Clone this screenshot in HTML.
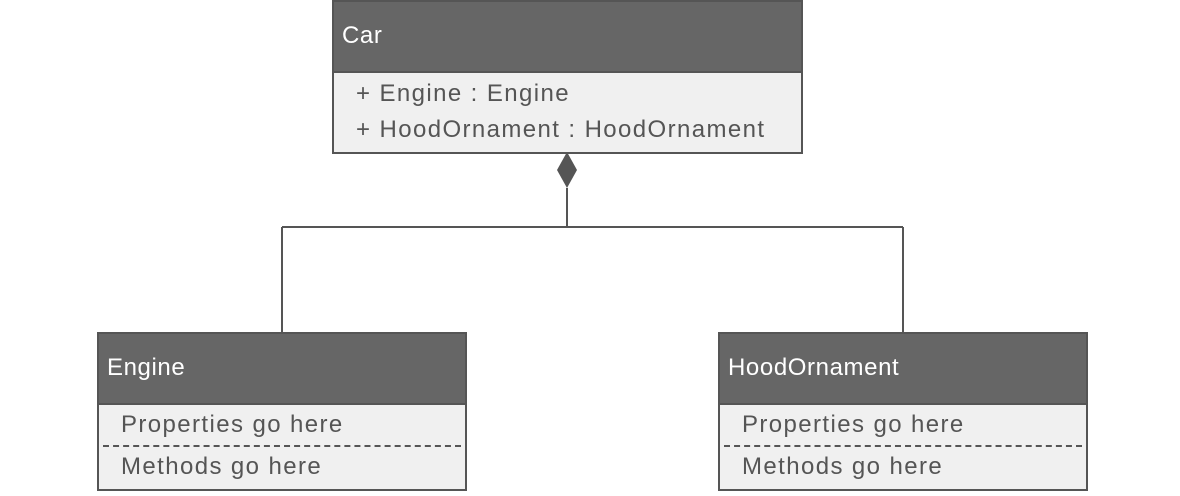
<!DOCTYPE html>
<html><head><style>
body{margin:0;width:1180px;height:496px;background:#fff;overflow:hidden;position:relative;font-family:"Liberation Sans",sans-serif;}
.box{position:absolute;border:2px solid #555;background:#f0f0f0;box-sizing:border-box;}
.hd{background:#666;color:#fff;font-size:24px;letter-spacing:0.6px;position:absolute;left:0;right:0;top:0;border-bottom:2px solid #555;box-sizing:border-box;}
.t{position:absolute;color:#555;font-size:24px;letter-spacing:1.4px;white-space:nowrap;}
.dash{position:absolute;left:4px;right:4px;border-top:2px dashed #555;}
</style></head><body>
<svg width="1180" height="496" style="position:absolute;left:0;top:0">
<path d="M567 188 V227 M282 227 H903 M282 227 V332 M903 227 V332" stroke="#555" stroke-width="2" fill="none"/>
<polygon points="567,152 577,170 567,188 557,170" fill="#555"/>
</svg>
<div class="box" style="left:332px;top:0px;width:471px;height:154px">
 <div class="hd" style="height:71px"><span style="position:absolute;left:8px;top:20px">Car</span></div>
 <div class="t" style="left:22px;top:78px">+ Engine : Engine</div>
 <div class="t" style="left:22px;top:114px">+ HoodOrnament : HoodOrnament</div>
</div>
<div class="box" style="left:97px;top:332px;width:370px;height:159px">
 <div class="hd" style="height:71px"><span style="position:absolute;left:8px;top:20px">Engine</span></div>
 <div class="t" style="left:22px;top:77px">Properties go here</div>
 <div class="dash" style="top:111px"></div>
 <div class="t" style="left:22px;top:119px">Methods go here</div>
</div>
<div class="box" style="left:718px;top:332px;width:370px;height:159px">
 <div class="hd" style="height:71px"><span style="position:absolute;left:8px;top:20px">HoodOrnament</span></div>
 <div class="t" style="left:22px;top:77px">Properties go here</div>
 <div class="dash" style="top:111px"></div>
 <div class="t" style="left:22px;top:119px">Methods go here</div>
</div>
</body></html>
